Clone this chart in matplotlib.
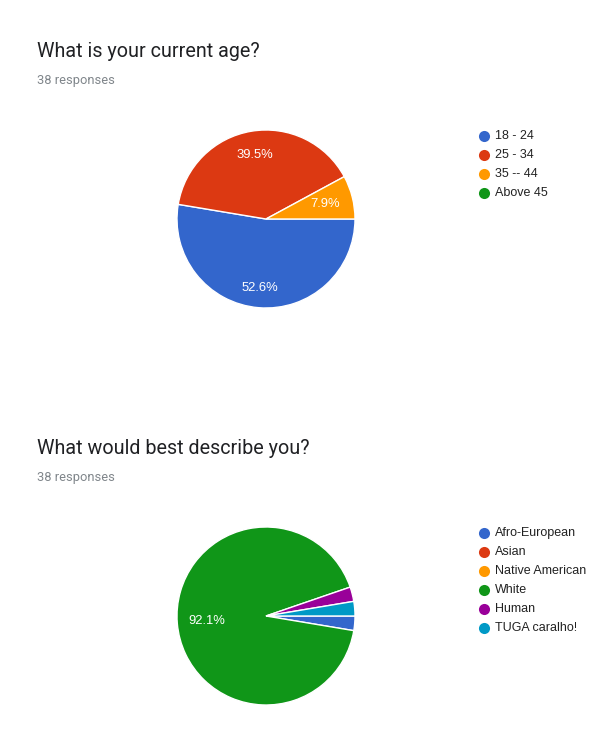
import matplotlib
matplotlib.use("Agg")
import matplotlib.pyplot as plt
import numpy as np

# ---- data ----
age_labels = ["18 - 24", "25 - 34", "35 -- 44", "Above 45"]
age_counts = [20, 15, 3, 0]
age_colors = ["#3366cc", "#dc3912", "#ff9900", "#109618"]

desc_labels = ["Afro-European", "Asian", "Native American", "White", "Human", "TUGA caralho!"]
desc_counts = [1, 0, 0, 35, 1, 1]
desc_colors = ["#3366cc", "#dc3912", "#ff9900", "#109618", "#990099", "#0099c6"]

titles = ["What is your current age?", "What would best describe you?"]
responses = ["38 responses", "38 responses"]

W, H = 602, 747
fig = plt.figure(figsize=(W / 100, H / 100), dpi=100)
ax = fig.add_axes([0, 0, 1, 1])


def pct_fmt(p):
    return f"{p:.1f}%" if p >= 5 else ""


def draw_block(labels, counts, colors, title, resp, y0, label_dist):
    # title & subtitle
    ax.text(37, y0 + 7, title, fontsize=14.2, family="Roboto", color="#202124",
            va="baseline", ha="left")
    ax.text(37, y0 + 34, resp, fontsize=9.3, family="Roboto", color="#80868b",
            va="baseline", ha="left")
    # pie (y axis inverted -> counterclock=True draws clockwise on screen)
    vals = [c for c in counts if c > 0]
    cols = [col for c, col in zip(counts, colors) if c > 0]
    cx, cy = 266, y0 + 169
    r = 89
    wedges, texts, autotexts = ax.pie(
        vals, colors=cols, startangle=0, counterclock=True,
        center=(cx, cy), radius=r, autopct=pct_fmt, pctdistance=0.72,
        wedgeprops=dict(edgecolor="white", linewidth=1.0),
        textprops=dict(color="white", fontsize=9.4, family="Liberation Sans"),
        frame=True)
    for w, t, d in zip(wedges, autotexts, label_dist):
        ang = np.deg2rad((w.theta1 + w.theta2) / 2)
        t.set_position((cx + d * r * np.cos(ang), cy + d * r * np.sin(ang)))
    # legend
    for i, (lab, col) in enumerate(zip(labels, colors)):
        ly = y0 + 86 + i * 19
        ax.scatter([484], [ly], s=64, color=col, marker="o", linewidths=0)
        ax.text(495, ly, lab, fontsize=9, family="Liberation Sans", color="#222222",
                va="center", ha="left")


draw_block(age_labels, age_counts, age_colors, titles[0], responses[0], 50,
           [0.78, 0.73, 0.68])
draw_block(desc_labels, desc_counts, desc_colors, titles[1], responses[1], 447,
           [0.7, 0.67, 0.7, 0.7])

ax.set_xlim(0, W)
ax.set_ylim(H, 0)
ax.set_aspect("equal")
ax.axis("off")

fig.savefig("out.png", dpi=100, facecolor="white")
